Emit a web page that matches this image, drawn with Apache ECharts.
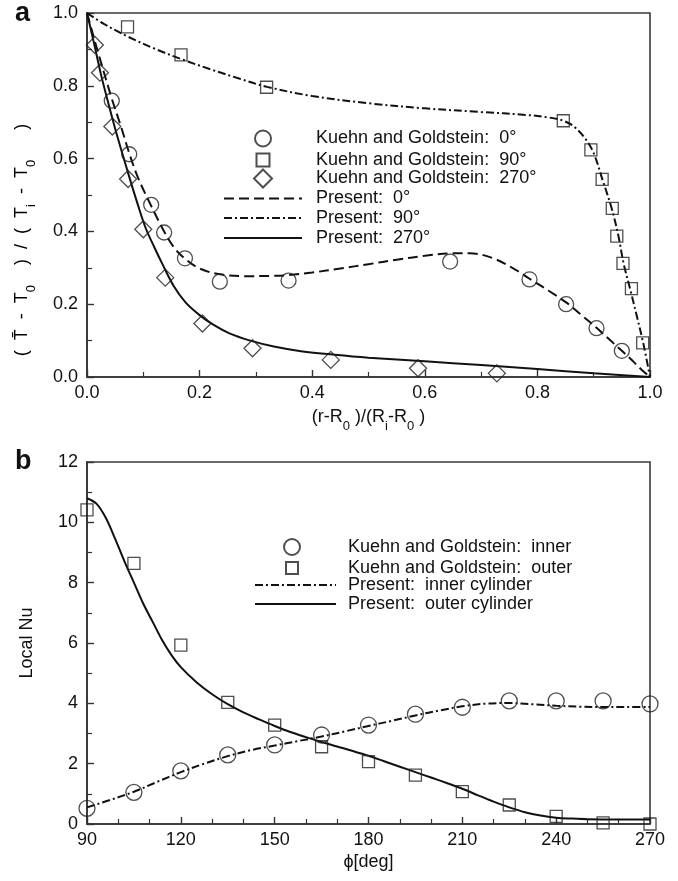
<!DOCTYPE html>
<html><head><meta charset="utf-8">
<script src="https://cdn.jsdelivr.net/npm/echarts@6/dist/echarts.min.js"></script>
<style>html,body{margin:0;padding:0;background:#fff}#c{width:678px;height:881px}</style>
</head><body><div id="c"></div>
<script>
// ---------- Panel (a) data ----------
const kg0 = [[0.044,0.759],[0.075,0.612],[0.114,0.473],[0.137,0.397],[0.174,0.326],[0.236,0.262],[0.358,0.265],[0.645,0.317],[0.786,0.268],[0.851,0.200],[0.905,0.134],[0.950,0.072]];
const kg90 = [[0.072,0.962],[0.167,0.885],[0.319,0.796],[0.846,0.704],[0.895,0.624],[0.915,0.543],[0.933,0.463],[0.941,0.387],[0.952,0.312],[0.967,0.243],[0.987,0.094]];
const kg270 = [[0.014,0.912],[0.023,0.836],[0.045,0.688],[0.073,0.544],[0.100,0.406],[0.139,0.273],[0.205,0.147],[0.294,0.079],[0.433,0.047],[0.588,0.024],[0.728,0.010]];
const present0 = [[0,1.0],[0.02,0.89],[0.044,0.765],[0.06,0.69],[0.075,0.615],[0.09,0.55],[0.114,0.47],[0.137,0.40],[0.155,0.355],[0.174,0.325],[0.2,0.298],[0.236,0.282],[0.28,0.277],[0.33,0.278],[0.358,0.28],[0.4,0.287],[0.45,0.298],[0.5,0.31],[0.55,0.322],[0.6,0.333],[0.65,0.34],[0.68,0.34],[0.72,0.327],[0.76,0.296],[0.786,0.27],[0.82,0.237],[0.851,0.205],[0.88,0.168],[0.905,0.135],[0.93,0.1],[0.95,0.072],[0.97,0.043],[0.985,0.02],[1.0,0.0]];
const present90 = [[0,1.0],[0.03,0.97],[0.07,0.937],[0.12,0.902],[0.17,0.872],[0.22,0.845],[0.27,0.82],[0.32,0.797],[0.4,0.772],[0.5,0.752],[0.6,0.738],[0.7,0.728],[0.78,0.72],[0.82,0.713],[0.846,0.704],[0.865,0.688],[0.885,0.655],[0.9,0.615],[0.915,0.545],[0.932,0.463],[0.944,0.387],[0.953,0.313],[0.965,0.24],[0.977,0.165],[0.988,0.093],[1.0,0.0]];
const present270 = [[0,1.0],[0.012,0.92],[0.025,0.83],[0.04,0.74],[0.055,0.655],[0.076,0.545],[0.09,0.475],[0.104,0.41],[0.12,0.355],[0.134,0.31],[0.154,0.25],[0.175,0.205],[0.2,0.17],[0.225,0.143],[0.253,0.12],[0.29,0.1],[0.334,0.083],[0.38,0.071],[0.44,0.061],[0.5,0.053],[0.6,0.043],[0.7,0.033],[0.8,0.022],[0.9,0.01],[1.0,0.0]];
const aTicks = {min:0, max:1, interval:0.2};

// ---------- Panel (b) data ----------
const kgInner = [[90,0.52],[105,1.05],[120,1.76],[135,2.29],[150,2.62],[165,2.95],[180,3.28],[195,3.64],[210,3.87],[225,4.08],[240,4.08],[255,4.08],[270,3.98]];
const kgOuter = [[90,10.41],[105,8.64],[120,5.93],[135,4.03],[150,3.28],[165,2.56],[180,2.07],[195,1.62],[210,1.07],[225,0.63],[240,0.25],[255,0.04],[270,0.0]];
const presentInner = [[90,0.55],[97.5,0.8],[105,1.07],[112.5,1.4],[120,1.72],[127.5,2.0],[135,2.25],[142.5,2.45],[150,2.6],[157.5,2.75],[165,2.9],[172.5,3.07],[180,3.25],[187.5,3.42],[195,3.6],[202.5,3.76],[210,3.9],[217.5,3.99],[225,4.01],[232.5,3.97],[240,3.92],[247.5,3.89],[255,3.88],[262.5,3.88],[270,3.88]];
const presentOuter = [[90,10.8],[93,10.62],[96,10.15],[99,9.45],[102,8.7],[105,8.0],[108,7.3],[111,6.7],[114,6.1],[117,5.6],[120,5.2],[125,4.7],[130,4.3],[135,3.97],[140,3.7],[145,3.47],[150,3.25],[155,3.05],[160,2.88],[165,2.72],[170,2.57],[175,2.42],[180,2.26],[185,2.08],[190,1.9],[195,1.72],[200,1.54],[205,1.36],[210,1.17],[215,0.95],[220,0.74],[225,0.55],[230,0.39],[235,0.28],[240,0.21],[245,0.18],[250,0.16],[260,0.15],[270,0.15]];
const bX = {min:90, max:270, interval:30};
const bY = {min:0, max:12, interval:2};

const namesA = ['Kuehn and Goldstein:  0°','Kuehn and Goldstein:  90°','Kuehn and Goldstein:  270°','Present:  0°','Present:  90°','Present:  270°'];
const namesB = ['Kuehn and Goldstein:  inner','Kuehn and Goldstein:  outer','Present:  inner cylinder','Present:  outer cylinder'];

const FONT = '"Liberation Sans", Arial, Helvetica, sans-serif';
const INK = '#111';
const MARK = '#222';

const chart = echarts.init(document.getElementById('c'), null, {renderer:'canvas'});

function axisCommon(extra){
  return Object.assign({
    type:'value',
    axisLine:{show:true, onZero:false, lineStyle:{color:'#333', width:1.6}},
    axisTick:{show:true, inside:true, length:7, lineStyle:{color:'#333', width:1.4}},
    minorTick:{show:true, length:5, lineStyle:{color:'#333', width:1.2}},
    splitLine:{show:false},
    axisLabel:{color:INK, fontSize:18, fontFamily:FONT}
  }, extra);
}

const subRich = {
  n:{fontSize:18, fontFamily:FONT, color:INK, lineHeight:22, verticalAlign:'top'},
  s:{fontSize:13, fontFamily:FONT, color:INK, lineHeight:14, padding:[12,0,0,0], verticalAlign:'top'}
};

function scatterSeries(name, data, symbol, size, xi){
  return {type:'scatter', name, data, xAxisIndex:xi, yAxisIndex:xi, symbol, symbolSize:size,
    itemStyle:{color:'rgba(0,0,0,0)', borderColor:MARK, borderWidth:1.3}, z:3, silent:true};
}
function lineSeries(name, data, dash, xi){
  return {type:'line', name, data, xAxisIndex:xi, yAxisIndex:xi, symbol:'none', showSymbol:false,
    smooth:0.35, lineStyle:{color:INK, width:2, type:dash}, itemStyle:{color:INK}, z:2, silent:true};
}

// legend entry: icon box [left, left+w], text starting at textX, row centre cy
function legendItem(name, left, cy, w, h, textX, isLine){
  const o = {data:[name], left, top:cy - h/2, orient:'vertical', itemWidth:w, itemHeight:h,
    itemGap:0, selectedMode:false, padding:0,
    textStyle:{color:INK, fontSize:18, fontFamily:FONT, padding:[0,0,0,textX - (left + w + 5)]}};
  if (isLine) o.itemStyle = {opacity:0};
  return o;
}

const rowsA = [137.5,157.5,177.5,197.5,217,237];
const rowsB = [546,565,584,603];
const symA = 262, txtA = 315, lineA = [223, 78];
const symB = 291, txtB = 347, lineB = [254, 81];
const legA = [
  legendItem(namesA[0], symA-8, rowsA[0], 16, 16, txtA, false),
  legendItem(namesA[1], symA-6.5, rowsA[1], 13, 13, txtA, false),
  legendItem(namesA[2], symA-9, rowsA[2], 18, 18, txtA, false),
  legendItem(namesA[3], lineA[0], rowsA[3], lineA[1], 16, txtA, true),
  legendItem(namesA[4], lineA[0], rowsA[4], lineA[1], 16, txtA, true),
  legendItem(namesA[5], lineA[0], rowsA[5], lineA[1], 16, txtA, true)
];
const legB = [
  legendItem(namesB[0], symB-8, rowsB[0], 16, 16, txtB, false),
  legendItem(namesB[1], symB-6, rowsB[1], 12, 12, txtB, false),
  legendItem(namesB[2], lineB[0], rowsB[2], lineB[1], 16, txtB, true),
  legendItem(namesB[3], lineB[0], rowsB[3], lineB[1], 16, txtB, true)
];

const option = {
  backgroundColor:'#fff',
  animation:false,
  grid:[
    {left:87, width:563, top:13, height:364, show:true, borderColor:'#3a3a3a', borderWidth:1.6, backgroundColor:'transparent'},
    {left:87, width:563, top:462, height:362, show:true, borderColor:'#3a3a3a', borderWidth:1.6, backgroundColor:'transparent'}
  ],
  xAxis:[
    axisCommon({gridIndex:0, min:aTicks.min, max:aTicks.max, interval:aTicks.interval,
      minorTick:{show:true, splitNumber:2, length:5, lineStyle:{color:'#333', width:1.2}},
      axisLabel:{color:INK, fontSize:18, fontFamily:FONT, margin:7, formatter:v=>v.toFixed(1)},
      name:'{n|(r-R}{s|0}{n| )/(R}{s|i}{n|-R}{s|0}{n| )}', nameLocation:'middle', nameGap:31,
      nameTextStyle:{rich:subRich}}),
    axisCommon({gridIndex:1, min:bX.min, max:bX.max, interval:bX.interval,
      minorTick:{show:true, splitNumber:3, length:5, lineStyle:{color:'#333', width:1.2}},
      axisLabel:{color:INK, fontSize:18, fontFamily:FONT, margin:7},
      name:'ϕ[deg]', nameLocation:'middle', nameGap:29,
      nameTextStyle:{color:INK, fontSize:18, fontFamily:FONT}})
  ],
  yAxis:[
    axisCommon({gridIndex:0, min:aTicks.min, max:aTicks.max, interval:aTicks.interval,
      minorTick:{show:true, splitNumber:2, length:5, lineStyle:{color:'#333', width:1.2}},
      axisLabel:{color:INK, fontSize:18, fontFamily:FONT, margin:9, formatter:v=>v.toFixed(1)}}),
    axisCommon({gridIndex:1, min:bY.min, max:bY.max, interval:bY.interval,
      minorTick:{show:true, splitNumber:2, length:5, lineStyle:{color:'#333', width:1.2}},
      axisLabel:{color:INK, fontSize:18, fontFamily:FONT, margin:9},
      name:'Local Nu', nameLocation:'middle', nameGap:51,
      nameTextStyle:{color:INK, fontSize:18, fontFamily:FONT}})
  ],
  legend: legA.concat(legB),
  graphic:[
    {type:'text', left:15, top:0, style:{text:'a', fill:INK, font:'bold 27px '+FONT}},
    {type:'text', left:15, top:448, style:{text:'b', fill:INK, font:'bold 27px '+FONT}},
    {type:'text', x:24, y:240, rotation:Math.PI/2,
      style:{text:'{n|(  T\u0304  -  T}{s|0}{n|    )  /  (  T}{s|i}{n|  -  T}{s|0}{n|      )}',
        rich:subRich, align:'center', verticalAlign:'middle'}}
  ],
  series:[
    lineSeries(namesA[3], present0, [10,5], 0),
    lineSeries(namesA[4], present90, [8,3,2,3], 0),
    lineSeries(namesA[5], present270, 'solid', 0),
    scatterSeries(namesA[0], kg0, 'circle', 15, 0),
    scatterSeries(namesA[1], kg90, 'rect', 12, 0),
    scatterSeries(namesA[2], kg270, 'diamond', 17, 0),
    lineSeries(namesB[2], presentInner, [8,3,2,3], 1),
    lineSeries(namesB[3], presentOuter, 'solid', 1),
    scatterSeries(namesB[0], kgInner, 'circle', 16, 1),
    scatterSeries(namesB[1], kgOuter, 'rect', 12, 1)
  ]
};
chart.setOption(option);
</script>
</body></html>
